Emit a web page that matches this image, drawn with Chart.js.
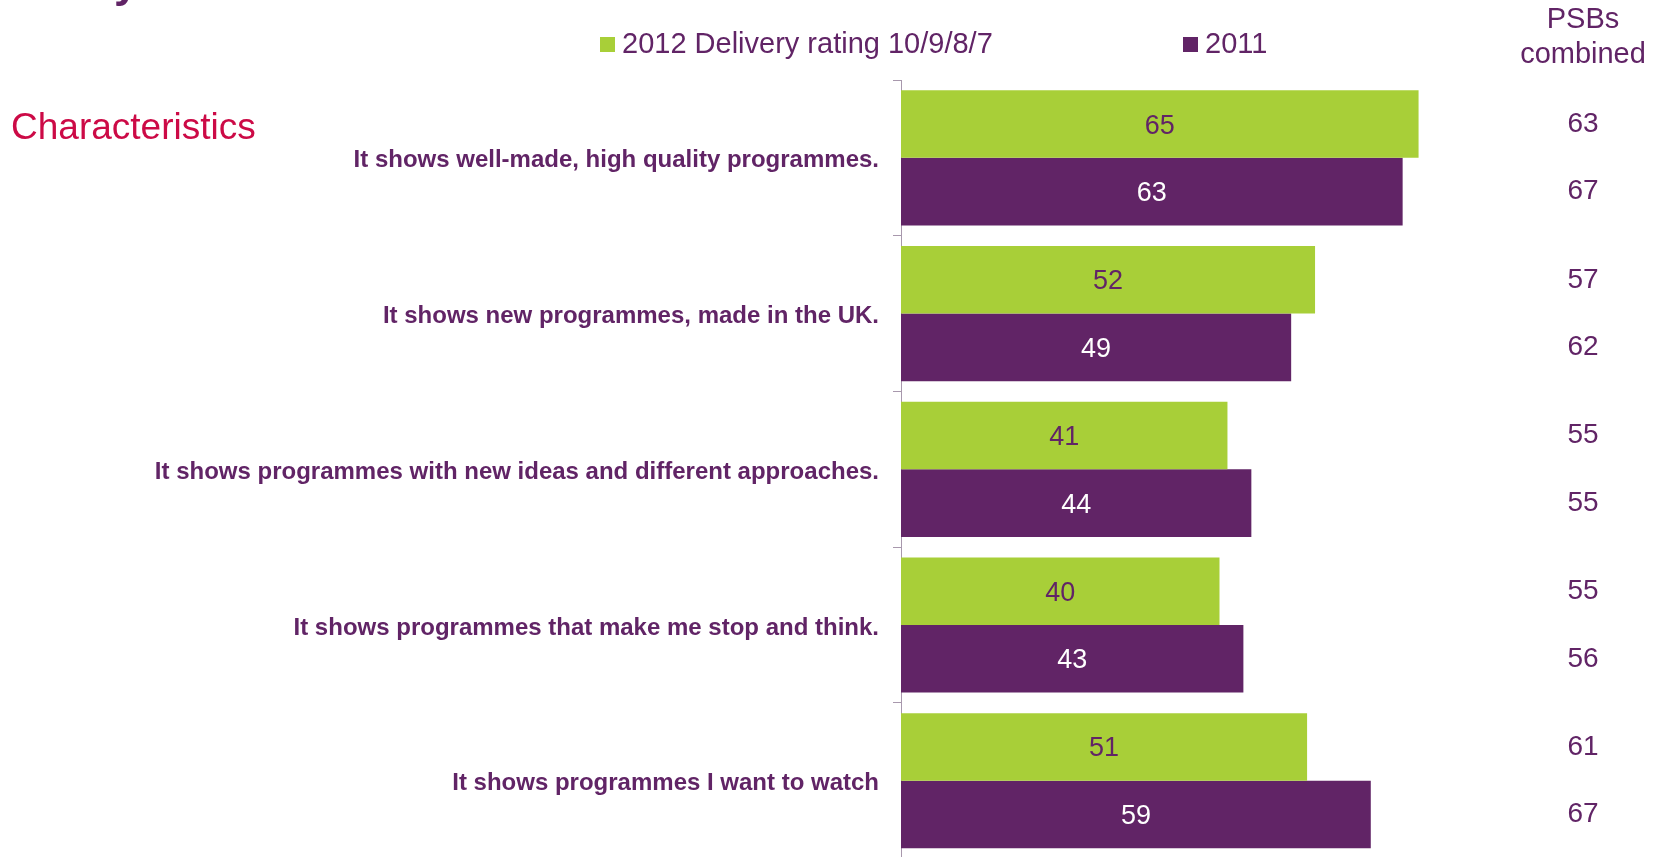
<!DOCTYPE html>
<html>
<head>
<meta charset="utf-8">
<title>Delivery rating</title>
<script src="https://cdn.jsdelivr.net/npm/chart.js@4/dist/chart.umd.min.js"></script>
<style>
  html, body { margin: 0; padding: 0; background: #ffffff; overflow: hidden; }
  #wrap { width: 1661px; height: 857px; overflow: hidden; }
</style>
</head>
<body>
<div id="wrap"><canvas id="deliveryChart" width="1661" height="887"></canvas></div>
<script>
const categories = [
  "It shows well-made, high quality programmes.",
  "It shows new programmes, made in the UK.",
  "It shows programmes with new ideas and different approaches.",
  "It shows programmes that make me stop and think.",
  "It shows programmes I want to watch",
];
const seriesLabels = ["2012 Delivery rating 10/9/8/7", "2011"];
const rating2012 = [65, 52, 41, 40, 51];
const rating2011 = [63, 49, 44, 43, 59];

// right-hand column, one value per bar
const psbHeader = ["PSBs", "combined"];
const psbCombined2012 = [63, 57, 55, 55, 61];
const psbCombined2011 = [67, 62, 55, 56, 67];

const sectionTitle = "Characteristics";

const PURPLE = "#612466";
const GREEN = "#a8cf38";
const RED = "#cc0a46";
const AXIS_GREY = "#a898ad";
const FONT = "'Liberation Sans', Arial, Helvetica, sans-serif";

// numbers inside the bars
const barValuesPlugin = {
  id: "barValues",
  afterDatasetsDraw(chart) {
    const ctx = chart.ctx;
    const colors = [PURPLE, "#ffffff"];
    ctx.save();
    ctx.font = "27px " + FONT;
    ctx.textAlign = "center";
    ctx.textBaseline = "middle";
    chart.data.datasets.forEach((ds, i) => {
      chart.getDatasetMeta(i).data.forEach((bar, j) => {
        ctx.fillStyle = colors[i];
        ctx.fillText(ds.data[j], (bar.x + bar.base) / 2, bar.y + 2);
      });
    });
    ctx.restore();
  },
};

// "PSBs combined" column on the right
const psbColumnPlugin = {
  id: "psbColumn",
  afterDatasetsDraw(chart) {
    const ctx = chart.ctx;
    const cx = 1583;
    const columns = [psbCombined2012, psbCombined2011];
    ctx.save();
    ctx.fillStyle = PURPLE;
    ctx.font = "29px " + FONT;
    ctx.textAlign = "center";
    ctx.textBaseline = "alphabetic";
    ctx.fillText(psbHeader[0], cx, 28);
    ctx.fillText(psbHeader[1], cx, 63);
    ctx.font = "28px " + FONT;
    ctx.textBaseline = "middle";
    columns.forEach((values, i) => {
      chart.getDatasetMeta(i).data.forEach((bar, j) => {
        ctx.fillText(values[j], cx, bar.y);
      });
    });
    ctx.restore();
  },
};

// legend row across the top, plus the section heading
const headerPlugin = {
  id: "headerRow",
  afterDraw(chart) {
    const ctx = chart.ctx;
    const boxX = [600, 1183];
    ctx.save();
    ctx.font = "29px " + FONT;
    ctx.textBaseline = "alphabetic";
    ctx.textAlign = "left";
    chart.data.datasets.forEach((ds, i) => {
      ctx.fillStyle = ds.backgroundColor;
      ctx.fillRect(boxX[i], 37, 15, 15);
      ctx.fillStyle = PURPLE;
      ctx.fillText(ds.label, boxX[i] + 22, 53);
    });

    ctx.fillStyle = RED;
    ctx.font = "37px " + FONT;
    ctx.fillText(sectionTitle, 11, 139);

    // tail of the heading above, cut off by the top edge
    ctx.fillStyle = PURPLE;
    ctx.font = "bold 44px " + FONT;
    ctx.fillText("y", 114, -3);
    ctx.restore();
  },
};

function renderChart() {
  const ctx = document.getElementById("deliveryChart").getContext("2d");
  new Chart(ctx, {
    type: "bar",
    data: {
      labels: categories,
      datasets: [
        { label: seriesLabels[0], data: rating2012, backgroundColor: GREEN },
        { label: seriesLabels[1], data: rating2011, backgroundColor: PURPLE },
      ],
    },
    options: {
      indexAxis: "y",
      responsive: false,
      animation: false,
      devicePixelRatio: 1,
      layout: { padding: { top: 80, right: 123, bottom: 2, left: 0 } },
      datasets: {
        bar: { categoryPercentage: 0.868, barPercentage: 1.0, borderWidth: 0 },
      },
      plugins: {
        legend: { display: false },
        tooltip: { enabled: false },
      },
      scales: {
        x: { display: false, min: 0, max: 80 },
        y: {
          afterFit: (scale) => { scale.width = 901; },
          border: { display: true, color: AXIS_GREY, width: 1 },
          grid: {
            offset: true,
            drawOnChartArea: false,
            drawTicks: true,
            tickLength: 8,
            color: AXIS_GREY,
          },
          ticks: {
            padding: 14,
            labelOffset: 3,
            color: PURPLE,
            font: { family: FONT, size: 24, weight: "bold" },
          },
        },
      },
    },
    plugins: [barValuesPlugin, psbColumnPlugin, headerPlugin],
  });
}

renderChart();
</script>
</body>
</html>
